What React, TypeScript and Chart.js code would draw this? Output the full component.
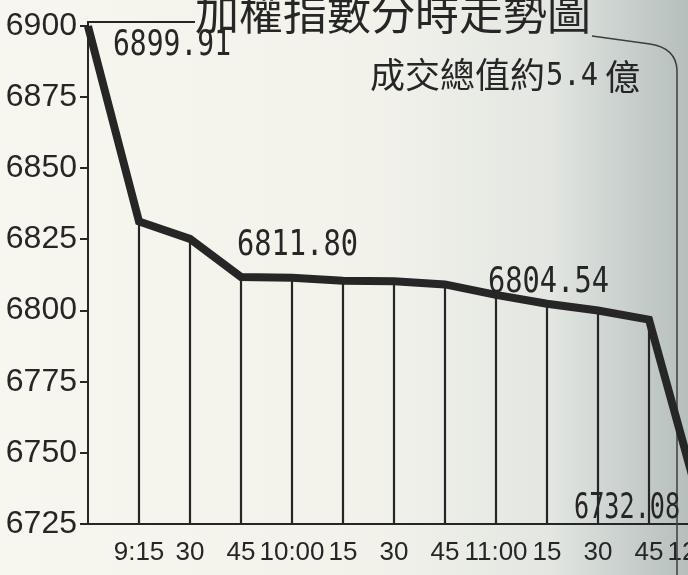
import { useEffect, useRef } from "react";
import { Chart, registerables } from "chart.js";
Chart.register(...registerables);

// ---- data ----
const timeLabels = ["", "9:15", "30", "45", "10:00", "15", "30", "45", "11:00", "15", "30", "45", "12:00"];
const indexValues = [6899.91, 6831.3, 6825.2, 6811.8, 6811.5, 6810.5, 6810.3, 6809.2, 6805.5, 6802.4, 6800.0, 6796.8, 6732.08];
const yMin = 6725;
const yMax = 6900;
const yStep = 25;
const calloutIndex = [0, 3, 8, 12];
const calloutText = ["6899.91", "6811.80", "6804.54", "6732.08"];
const titleText = "加權指數分時走勢圖";
const turnoverPrefix = "成交總值約";
const turnoverAmount = "5.4";
const turnoverUnit = "億";

const INK = "#262626";
const CJK = "'Noto Sans CJK TC', 'Noto Sans CJK SC', sans-serif";
const MONO = "'DejaVu Sans Mono', monospace";

function drawText(ctx: CanvasRenderingContext2D, s: string, x: number, y: number, font: string, sx = 1) {
  ctx.save();
  ctx.translate(x, y);
  ctx.scale(sx, 1);
  ctx.font = font;
  ctx.fillText(s, 0, 0);
  ctx.restore();
}

// offset from the point, horizontal squeeze
const calloutPlacement = [
  [25, 20, 0.8],
  [-4, -31, 0.82],
  [-8, -12, 0.82],
  [-126, 5, 0.72],
];

const decor = {
  id: "decor",
  beforeDatasetsDraw(chart: any) {
    const ctx = chart.ctx as CanvasRenderingContext2D;
    const area = chart.chartArea;
    const meta = chart.getDatasetMeta(0);
    ctx.save();
    ctx.strokeStyle = INK;
    ctx.lineWidth = 2.2;
    for (let i = 1; i < meta.data.length - 1; i++) {
      const p = meta.data[i];
      ctx.beginPath();
      ctx.moveTo(p.x, p.y);
      ctx.lineTo(p.x, area.bottom);
      ctx.stroke();
    }
    // frame lines
    ctx.lineWidth = 2;
    ctx.beginPath();
    ctx.moveTo(area.left, area.top + 2);
    ctx.lineTo(area.left, area.top - 4);
    ctx.lineTo(195, area.top - 4);
    ctx.stroke();
    ctx.lineWidth = 1.5;
    ctx.strokeStyle = "#3a3f3d";
    ctx.beginPath();
    ctx.moveTo(592, 36);
    ctx.lineTo(650, 44);
    ctx.quadraticCurveTo(676, 48, 677, 70);
    ctx.lineTo(677, 575);
    ctx.stroke();
    ctx.restore();
  },
  afterDraw(chart: any) {
    const ctx = chart.ctx as CanvasRenderingContext2D;
    const meta = chart.getDatasetMeta(0);
    ctx.save();
    ctx.fillStyle = INK;
    ctx.textAlign = "left";
    ctx.textBaseline = "middle";
    drawText(ctx, titleText, 195, 13, `44px ${CJK}`);
    drawText(ctx, turnoverPrefix, 370, 75, `35px ${CJK}`);
    drawText(ctx, turnoverAmount, 546, 77, `32px ${MONO}`, 0.9);
    drawText(ctx, turnoverUnit, 605, 77, `35px ${CJK}`);
    calloutIndex.forEach((idx, k) => {
      const p = meta.data[idx];
      const [dx, dy, sx] = calloutPlacement[k];
      drawText(ctx, calloutText[k], p.x + dx, p.y + dy, `35px ${MONO}`, sx);
    });
    ctx.restore();
  },
};

export default function App() {
  const ref = useRef<HTMLCanvasElement | null>(null);
  useEffect(() => {
    if (!ref.current) return;
    const chart = new Chart(ref.current, {
      type: "line",
      data: {
        labels: timeLabels,
        datasets: [
          {
            data: indexValues,
            borderColor: INK,
            borderWidth: 8,
            pointRadius: 0,
            tension: 0,
            clip: false as any,
            borderJoinStyle: "miter",
          },
        ],
      },
      options: {
        animation: false,
        responsive: false,
        maintainAspectRatio: false,
        layout: { padding: { left: 0, top: 26, right: 40, bottom: 0 } },
        plugins: { legend: { display: false }, tooltip: { enabled: false } },
        scales: {
          x: {
            offset: false,
            grid: { display: false },
            border: { display: true, color: INK, width: 2 },
            ticks: {
              autoSkip: false,
              maxRotation: 0,
              minRotation: 0,
              padding: 5,
              color: INK,
              font: { family: "'Liberation Sans', sans-serif", size: 26 },
            },
            afterFit: (s: any) => {
              s.height = 51;
            },
          },
          y: {
            min: yMin,
            max: yMax,
            grid: { drawOnChartArea: false, drawTicks: true, tickLength: 8, color: INK, lineWidth: 2 },
            border: { display: true, color: INK, width: 2 },
            ticks: {
              stepSize: yStep,
              padding: 3,
              color: INK,
              font: { family: "'Liberation Sans', sans-serif", size: 32 },
              callback: (v: any) => String(v),
            },
            afterFit: (s: any) => {
              s.width = 88;
            },
          },
        },
      },
      plugins: [decor],
    });
    return () => chart.destroy();
  }, []);
  return (
    <div
      style={{
        position: "absolute",
        left: 0,
        top: 0,
        width: 688,
        height: 575,
        overflow: "hidden",
        background:
          "linear-gradient(to right, #f7f6ef 0%, #f2f2eb 55%, #e3e6e1 80%, #cbd2cf 90%, #b6bfbc 100%)",
      }}
    >
      <canvas ref={ref} width={740} height={575} style={{ display: "block", width: 740, height: 575 }} />
    </div>
  );
}
